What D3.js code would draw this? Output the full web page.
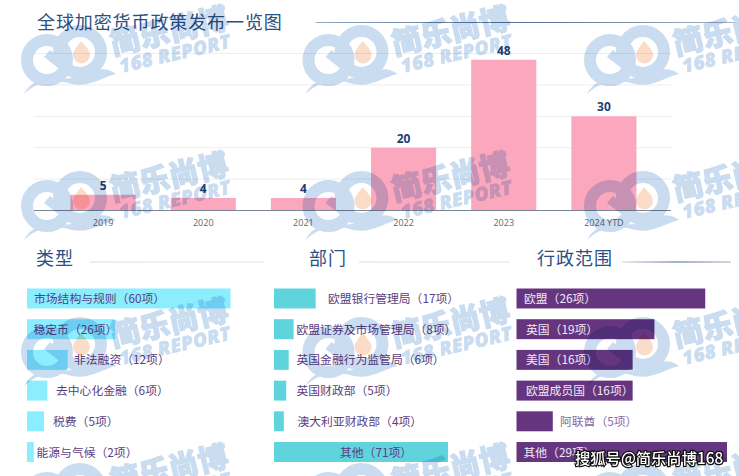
<!DOCTYPE html>
<html><head><meta charset="utf-8">
<script src="https://cdnjs.cloudflare.com/ajax/libs/d3/7.8.5/d3.min.js"></script>
<style>html,body{margin:0;padding:0;background:#fff}svg{display:block}text{font-family:"Noto Sans CJK SC","Noto Sans",sans-serif}</style>
</head><body><div id="c"></div>
<script>
const chartTitle = "全球加密货币政策发布一览图";
const years = ["2019","2020","2021","2022","2023","2024 YTD"];
const yearValues = [5,4,4,20,48,30];
const gridTicks = [10,20,30,40,50];
const typeNames = ["市场结构与规则","稳定币","非法融资","去中心化金融","税费","能源与气候"];
const typeValues = [60,26,12,6,5,2];
const deptNames = ["欧盟银行管理局","欧盟证券及市场管理局","英国金融行为监管局","英国财政部","澳大利亚财政部","其他"];
const deptValues = [17,8,6,5,4,71];
const scopeNames = ["欧盟","英国","美国","欧盟成员国","阿联酋","其他"];
const scopeValues = [26,19,16,16,5,29];

const W=739,H=476;
const svg=d3.select("#c").append("svg").attr("width",W).attr("height",H);
const defs=svg.append("defs");
function grad(id,stops){const g=defs.append("linearGradient").attr("id",id);
  stops.forEach(s=>g.append("stop").attr("offset",s[0]).attr("stop-color",s[1]));}
grad("g1",[[0,"#8fa6bf"],[.5,"#4f7299"],[1,"#a9b4bf"]]);
grad("g2",[[0,"#cfe0f0"],[1,"#d9e8f2"]]);
grad("g3",[[0,"#c5d6e6"],[.5,"#4d6580"],[1,"#9fb0bf"]]);

// column chart
const x=d3.scaleBand().domain(years).range([53,654]).paddingInner(.35).paddingOuter(.175);
const y=d3.scaleLinear().domain([0,50]).range([210.5,53.5]);
const chart=svg.append("g");
chart.selectAll(".grid").data(gridTicks).join("line").attr("x1",34).attr("x2",671)
  .attr("y1",d=>y(d)).attr("y2",d=>y(d)).attr("stroke","#eeeeee").attr("stroke-width",1);
chart.selectAll(".bar").data(years).join("rect").attr("x",d=>x(d)).attr("width",x.bandwidth())
  .attr("y",(d,i)=>y(yearValues[i])).attr("height",(d,i)=>y(0)-y(yearValues[i])).attr("fill","#fba8bf");
const axis=chart.append("g").attr("transform",`translate(0,${y(0)})`)
  .call(d3.axisBottom(x).tickSize(0).tickPadding(9));
axis.select(".domain").remove();
axis.selectAll("text").attr("fill","#666").style("font-size","9px").style("font-family","'Open Sans',sans-serif");
chart.append("line").attr("x1",34).attr("x2",671).attr("y1",y(0)).attr("y2",y(0)).attr("stroke","#7b8594").attr("stroke-width",1);
chart.selectAll(".val").data(years).join("text").attr("x",d=>x(d)+x.bandwidth()/2)
  .attr("y",(d,i)=>y(yearValues[i])-5).attr("text-anchor","middle").attr("fill","#1f3f70")
  .style("font-size","12px").style("font-weight",700).style("font-family","'Open Sans',sans-serif")
  .text((d,i)=>yearValues[i]);

// titles
const titleColor="#2b5082";
svg.append("text").attr("x",37).attr("y",29).attr("fill",titleColor).style("font-size","18px").style("letter-spacing",".9px").text(chartTitle);
svg.append("rect").attr("x",316).attr("y",22).attr("width",419).attr("height",1).attr("fill","url(#g1)");

// panels
const rowY=d3.scaleBand().domain(d3.range(6)).range([288.5,462]).paddingInner(.35).paddingOuter(0);
const panels=[
 {head:"类型",hx:36,lx:[90,264],lf:"url(#g2)",x0:27,x1:230.5,max:60,names:typeNames,vals:typeValues,fill:"#8aeeff",lab:[34,33.5,74,56,53,36.5],col:()=>"#5b3d80"},
 {head:"部门",hx:309,lx:[359,510],lf:"url(#g2)",x0:274,x1:448,max:71,names:deptNames,vals:deptValues,fill:"#5fd4dc",lab:[328,296.5,296.5,296.5,297.5,340],col:()=>"#5b3d80"},
 {head:"行政范围",hx:537,lx:[622,731],lf:"url(#g3)",x0:516.5,x1:727,max:29,names:scopeNames,vals:scopeValues,fill:"#65367f",lab:[524,526,526,526,560,523.5],col:i=>i===4?"#8a6aa2":"#f1e9f6"}
];
panels.forEach(p=>{
  svg.append("text").attr("x",p.hx).attr("y",265).attr("fill",titleColor).style("font-size","18px").style("letter-spacing","1px").text(p.head);
  svg.append("rect").attr("x",p.lx[0]).attr("y",261.5).attr("width",p.lx[1]-p.lx[0]).attr("height",1).attr("fill",p.lf);
  const s=d3.scaleLinear().domain([0,p.max]).range([p.x0,p.x1]);
  const g=svg.append("g");
  g.selectAll("rect").data(p.vals).join("rect").attr("x",s(0)).attr("y",(d,i)=>rowY(i))
    .attr("width",d=>s(d)-s(0)).attr("height",rowY.bandwidth()).attr("fill",p.fill);
  g.selectAll("text").data(p.vals).join("text").attr("x",(d,i)=>p.lab[i]).attr("y",(d,i)=>rowY(i)+rowY.bandwidth()/2+4.5)
    .attr("fill",(d,i)=>p.col(i)).style("font-size","11.8px").text((d,i)=>`${p.names[i]}（${d}项）`);
});

// watermark tiles
const wm=svg.append("g").style("mix-blend-mode","multiply");
const tileX=[0,281.5,563], tileY=[0,146,292,438];
tileX.forEach(tx=>tileY.forEach(ty=>{
  const t=wm.append("g").attr("transform",`translate(${tx},${ty})`);
  const blue="#cadcf0";
  t.append("circle").attr("cx",47).attr("cy",60).attr("r",20).attr("fill","none").attr("stroke",blue).attr("stroke-width",12);
  t.append("circle").attr("cx",80).attr("cy",52).attr("r",21).attr("fill","none").attr("stroke",blue).attr("stroke-width",12);
  t.append("path").attr("d","M44 57L50 50L70 66L66 74Z").attr("fill",blue);
  t.append("path").attr("d","M24 94C40 78 60 80 72 84C90 88 104 76 116 74C100 62 88 76 72 78C56 80 34 74 24 94Z").attr("fill",blue);
  t.append("path").attr("d","M81 41C86 47 90 50 90 55A8.5 8.5 0 0 1 73 55C73 50 78 46 81 41Z").attr("fill","#fbdcc8");
  t.append("text").attr("transform","translate(113,55) rotate(-13)").attr("fill",blue).attr("stroke",blue).attr("stroke-width",1.2).style("font-size","30px").style("font-weight",900).text("简乐尚博");
  t.append("text").attr("transform","translate(121,73) rotate(-13)").attr("fill",blue).attr("stroke",blue).attr("stroke-width",.6).style("font-size","19px").style("font-weight",800).style("font-style","italic").style("font-family","'Open Sans',sans-serif").style("letter-spacing",".4px").text("168 REPORT");
}));

// source stamp
svg.append("text").attr("x",575).attr("y",464).attr("fill","#fff").attr("stroke","#111").attr("stroke-width",2.4).attr("paint-order","stroke")
  .style("font-size","15.3px").style("font-weight",500).text("搜狐号@简乐尚博168");
</script></body></html>
